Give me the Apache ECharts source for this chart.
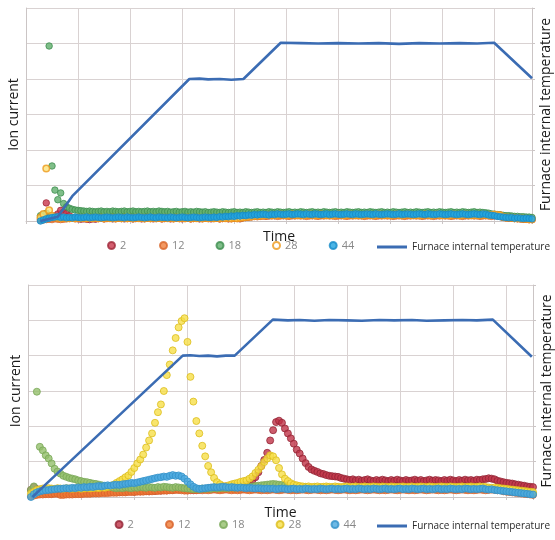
<!DOCTYPE html>
<html><head><meta charset="utf-8">
<script src="https://cdn.jsdelivr.net/npm/echarts@6.0.0/dist/echarts.min.js"></script>
<style>html,body{margin:0;padding:0;background:#fff;} .c{width:555px;height:270px;}</style>
</head><body>
<div id="c1" class="c"></div><div id="c2" class="c"></div>
<script>
// Series names (m/z) and the temperature series
const ionNames = ['2', '12', '18', '28', '44'];
const tempName = 'Furnace internal temperature';

// ---------- TOP CHART ----------
// x = sample index (18 samples per time grid division), y = ion current in 1/100 grid units
const topStart = 5;
const top2 = [5,10,51,15,12,14,20,30,25,21,
15,10,8,6,5,6,5,4,6,5,
7,8,6,7,8,6,7,8,7,6,
7,8,6,7,8,6,7,8,7,6,
7,8,6,7,8,6,7,8,7,6,
7,8,6,7,8,6,7,8,7,6,
7,8,6,7,8,6,7,8,7,6,
9,10,11,12,13,14,14,15,14,15,
16,15,17,16,15,16,17,15,16,17,
16,15,17,16,15,16,17,15,16,17,
16,15,17,16,15,16,17,15,16,17,
16,15,17,16,15,16,17,15,16,17,
16,15,17,16,15,16,17,15,16,17,
16,15,17,16,15,16,17,15,16,17,
16,15,17,16,15,16,17,15,16,17,
16,15,17,16,15,16,17,15,16,17,
10,9,8,8,7,7,6,5,5,4,4];
const top12 = [2,3,4,5,4,6,5,4,5,6,
7,8,6,7,8,7,6,8,7,8,
7,8,6,7,8,7,6,8,7,8,
7,8,6,7,8,7,6,8,7,8,
7,8,6,7,8,7,6,8,7,8,
7,8,6,7,8,7,6,8,7,8,
7,8,6,7,8,7,6,8,7,8,
9,10,11,12,13,12,13,14,13,14,
14,15,13,14,15,14,13,15,14,15,
14,15,13,14,15,14,13,15,14,15,
14,15,13,14,15,14,13,15,14,15,
14,15,13,14,15,14,13,15,14,15,
14,15,13,14,15,14,13,15,14,15,
14,15,13,14,15,14,13,15,14,15,
14,15,13,14,15,14,13,15,14,15,
14,15,13,14,15,14,13,15,14,15,
10,9,8,8,7,6,6,5,5,4,4];
const top18 = [15,18,22,493,155,87,60,79,49,40,
36,33,31,30,29,28,27,28,27,26,
27,28,26,27,26,28,27,26,27,28,
26,27,28,26,27,26,27,28,26,27,
26,28,27,26,27,25,26,27,25,26,
27,25,26,25,27,26,25,26,24,25,
26,25,24,26,25,24,25,26,24,25,
24,26,25,24,25,26,24,25,24,26,
25,24,26,25,24,25,26,24,25,24,
26,25,24,25,26,24,25,24,26,25,
24,25,26,24,25,24,26,25,24,25,
26,24,25,24,26,25,24,25,26,24,
25,24,26,25,24,25,26,24,25,24,
26,25,24,25,26,24,25,24,26,25,
24,25,26,24,25,24,26,25,24,25,
26,24,25,24,23,22,20,19,18,17,
16,15,15,14,13,13,12,12,11,11,10];
const top28 = [10,20,148,30,15,10,9,8,9,8,
8,9,8,9,8,9,8,9,8,9,
8,9,8,9,8,9,8,9,8,9,
8,9,8,9,8,9,8,9,8,9,
8,9,8,9,8,9,8,9,8,9,
8,9,8,9,8,9,8,9,8,9,
8,9,8,9,8,9,8,9,8,9,
10,11,12,13,14,15,15,16,16,17,
17,16,17,18,17,16,17,18,17,16,
17,16,17,18,17,16,17,18,17,16,
17,16,17,18,17,16,17,18,17,16,
17,16,17,18,17,16,17,18,17,16,
17,16,17,18,17,16,17,18,17,16,
17,16,17,18,17,16,17,18,17,16,
17,16,17,18,17,16,17,18,17,16,
17,16,17,18,17,16,17,18,17,16,
11,10,9,9,8,8,7,6,6,5,5];
const top44 = [0,3,6,8,10,11,12,10,11,9,
10,9,11,10,9,10,11,9,10,11,
10,9,10,11,10,9,10,11,10,9,
11,10,9,10,11,10,9,10,11,10,
9,11,10,10,9,11,10,9,10,11,
10,9,10,11,10,9,10,11,10,10,
11,10,12,11,13,12,14,13,15,14,
16,15,17,16,18,17,18,19,18,17,
19,18,20,19,18,19,20,18,19,20,
19,18,20,19,18,20,19,18,19,20,
18,19,20,19,18,19,20,19,18,20,
19,18,19,20,19,18,20,19,18,19,
20,19,18,19,20,18,19,20,19,18,
19,20,19,18,20,19,18,19,20,19,
18,19,20,19,18,19,20,19,18,19,
20,19,18,20,19,17,16,15,13,12,
11,10,9,10,8,9,8,7,8,7,6];
// temperature: [sample index, temperature units]
const topTemp = [[5,0],[11,12],[16,70],[56.5,400],[60,401],[63,399],[67,400],[71,398],[75.2,400],
[88.1,502],[95,501],[101,500],[108,501],[115,500],[122,501],[129,499],[136,501],[143,500],
[150,501],[156,500],[161.9,502],[175,402]];

// ---------- BOTTOM CHART ----------
const botStart = 1;
const bot2 = [20,28,22,15,12,10,11,10,12,11,
10,12,11,13,12,11,13,12,14,13,
12,14,13,15,14,13,15,14,16,15,
14,16,15,17,16,15,17,16,18,17,
16,18,17,19,18,20,19,21,20,22,
21,23,22,21,20,19,20,21,22,23,
24,25,26,27,28,29,30,29,30,31,
32,33,34,35,40,48,56,70,88,105,
125,160,189,212,216,210,194,180,166,151,
134,123,109,96,85,78,74,71,67,65,
62,60,59,58,57,54,52,50,48,50,
47,49,46,48,50,47,45,48,46,49,
47,45,48,46,49,47,45,48,46,47,
49,46,48,45,47,49,46,48,47,45,
48,46,49,47,45,48,46,49,47,48,
46,49,48,50,51,53,52,50,46,44,
42,40,39,38,36,35,33,32,30,29,28];
const bot12 = [2,4,6,7,7,8,8,8,9,9,
6,6,7,7,7,8,8,8,9,9,
9,10,10,10,11,11,11,12,12,12,
13,13,13,14,14,14,15,15,15,16,
16,16,17,17,18,18,18,19,19,20,
20,19,18,18,19,20,19,20,19,20,
19,20,21,20,19,20,21,20,19,20,
19,20,21,20,19,20,21,20,19,20,
19,20,21,20,19,20,21,20,19,20,
19,20,21,20,19,20,21,20,19,20,
19,20,21,20,19,20,21,20,19,20,
19,20,21,20,19,20,21,20,19,20,
19,20,21,20,19,20,21,20,19,20,
19,20,21,20,19,20,21,20,19,20,
19,20,21,20,19,20,21,20,19,20,
19,20,21,20,19,20,21,20,19,20,
16,15,14,13,12,11,10,9,8,7,6];
const bot18 = [20,30,298,142,132,118,109,95,80,72,
66,60,57,54,52,50,47,45,43,42,
40,38,37,35,33,30,29,28,26,25,
26,25,27,26,25,27,26,28,27,26,
28,27,26,28,27,29,28,27,26,28,
27,26,25,24,23,22,23,22,24,23,
24,23,25,24,25,26,25,26,27,26,
27,28,27,29,28,30,31,32,33,34,
35,36,37,36,35,34,33,32,31,30,
29,28,27,28,27,26,27,26,27,26,
27,26,27,26,25,26,27,26,25,26,
27,26,25,26,27,25,26,27,26,25,
26,27,25,26,27,26,25,26,27,25,
26,25,27,26,25,26,27,25,26,25,
27,26,25,26,25,27,26,25,26,27,
25,26,25,27,26,24,23,22,21,20,
19,18,17,16,15,14,13,12,11,10,9];
const bot28 = [10,15,20,22,24,23,25,24,23,25,
24,23,25,24,23,24,25,23,24,25,
24,25,26,25,27,26,28,30,35,40,
45,50,56,61,71,82,95,106,120,140,
160,180,210,240,262,300,345,375,415,450,
480,498,506,439,340,270,215,180,145,115,
88,70,54,42,36,31,30,33,36,38,
40,43,45,47,52,58,68,77,87,99,
109,118,115,104,82,64,52,45,39,35,
33,31,30,29,30,28,29,30,28,29,
30,29,28,30,29,28,29,30,28,29,
30,28,29,30,28,29,30,29,28,30,
29,28,30,29,28,29,30,28,29,30,
28,29,30,29,28,30,29,28,29,30,
29,28,30,29,28,29,30,28,29,30,
28,29,30,29,28,27,26,27,26,25,
24,23,22,21,20,19,18,17,16,15,14];
const bot44 = [0,8,13,16,18,19,20,21,22,23,
23,24,25,24,26,25,27,26,28,27,
29,28,30,31,30,32,33,32,34,35,
34,36,37,38,40,39,41,43,45,47,
49,51,53,55,56,58,57,60,62,60,
61,58,52,44,36,29,25,23,24,25,
26,27,28,27,28,29,28,27,28,27,
26,27,26,25,26,25,24,25,24,23,
24,23,24,22,23,24,23,22,23,24,
22,23,22,24,23,22,23,22,24,23,
22,23,24,22,23,22,23,24,22,23,
22,24,23,22,23,22,24,23,22,23,
24,22,23,22,23,24,22,23,22,24,
23,22,23,24,22,23,22,23,24,22,
23,22,24,23,22,23,22,24,23,22,
23,22,23,24,22,21,22,20,19,18,
17,16,15,14,13,12,11,10,9,8,7];
const botTemp = [[1.5,0],[5,28],[52.4,400],[55,401],[58,399],[61,400],[64,398],[67,400],[70,400],
[82.9,502],[88,500],[92,501],[97,499],[102,501],[108,500],[113,499],[119,501],[124,500],
[130,501],[135,499],[141,500],[147,501],[152,500],[157.4,502],[170.6,397]];

const FONT = 'Open Sans';
const GRID_COLOR = '#d9d2d2';
const TEMP_COLOR = '#3b6cb3';

function build(el, cfg) {
  const chart = echarts.init(document.getElementById(el), null, {renderer: 'canvas'});
  const series = cfg.ion.map((arr, k) => ({
    name: ionNames[k], type: 'scatter', yAxisIndex: 0,
    symbol: 'circle', symbolSize: cfg.symbolSize,
    itemStyle: {color: cfg.fill[k], borderColor: cfg.border[k], borderWidth: cfg.bw[k]},
    data: arr.map((v, j) => [cfg.start + j, v]),
    animation: false
  }));
  series.push({
    name: tempName, type: 'line', yAxisIndex: 1, symbol: 'none', showSymbol: false,
    lineStyle: {color: TEMP_COLOR, width: 2.6}, itemStyle: {color: TEMP_COLOR},
    data: cfg.temp, animation: false, z: 3
  });
  const legends = [];
  const names = ionNames.concat([tempName]);
  names.forEach((n, k) => {
    const isLine = k === 5;
    const item = {name: n};
    if (isLine) item.icon = 'rect';
    if (cfg.legendIconFill && cfg.legendIconFill[k]) item.itemStyle = {color: cfg.legendIconFill[k]};
    legends.push({
      data: [item], left: cfg.legendLeft[k], top: isLine ? cfg.legendTop + 2 : cfg.legendTop, padding: 0,
      itemWidth: isLine ? 30 : 7, itemHeight: isLine ? 3 : 7, selectedMode: false,
      textStyle: {fontFamily: FONT, fontSize: isLine ? 10 : 11, color: isLine ? '#2a2a2a' : '#888'}
    });
  });
  const nameStyle = {fontFamily: FONT, fontSize: 14, color: '#1a1a1a'};
  chart.setOption({
    animation: false,
    textStyle: {fontFamily: FONT},
    grid: Object.assign({outerBoundsMode: 'none', containLabel: false}, cfg.grid),
    legend: legends,
    xAxis: {
      type: 'value', min: 0, max: cfg.xmax, interval: 18,
      name: 'Time', nameLocation: 'middle', nameGap: 9, nameTextStyle: nameStyle,
      axisLine: {show: true, lineStyle: {color: '#cbc5c5'}},
      axisTick: {show: true, length: 3, lineStyle: {color: '#cbc5c5'}},
      axisLabel: {show: false},
      splitLine: {show: true, lineStyle: {color: GRID_COLOR, width: 1}}
    },
    yAxis: [{
      type: 'value', min: 0, max: 600, interval: 100, position: 'left',
      name: 'Ion current', nameLocation: 'middle', nameGap: 5, nameTextStyle: nameStyle,
      axisLine: {show: true, lineStyle: {color: '#cbc5c5'}},
      axisTick: {show: false}, axisLabel: {show: false},
      splitLine: {show: true, lineStyle: {color: GRID_COLOR, width: 1}}
    }, {
      type: 'value', min: 0, max: 600, interval: 100, position: 'right',
      name: tempName, nameLocation: 'middle', nameGap: 7, nameTextStyle: nameStyle,
      axisLine: {show: true, lineStyle: {color: '#cbc5c5'}},
      axisTick: {show: true, length: 3, lineStyle: {color: '#cbc5c5'}},
      axisLabel: {show: false}, splitLine: {show: false}
    }],
    series: series
  });
}

build('c1', {
  start: topStart, ion: [top2, top12, top18, top28, top44], temp: topTemp,
  xmax: 175, symbolSize: 6.5,
  fill: ['#c8364b', '#f07f3c', '#5fae6c', '#fbe37a', '#1ea3e0'],
  border: ['#a02a3b', '#d8662a', '#3f8e50', '#ee9a1c', '#168bc8'],
  bw: [1, 1, 1, 1.5, 1],
  legendIconFill: [null, null, null, '#ffffff', null],
  grid: {left: 26, top: 8, width: 506, height: 213},
  legendLeft: [107, 159, 215.5, 272, 328.7, 377], legendTop: 240
});
build('c2', {
  start: botStart, ion: [bot2, bot12, bot18, bot28, bot44], temp: botTemp,
  xmax: 171, symbolSize: 7,
  fill: ['#bf3347', '#ef7a35', '#93bf6c', '#f6df48', '#48a8df'],
  border: ['#942536', '#d8622a', '#79a757', '#dcbd1c', '#3592c9'],
  bw: [1, 1, 1, 1, 1],
  legendIconFill: null,
  grid: {left: 28, top: 15, width: 505, height: 212},
  legendLeft: [114.6, 165, 219, 275.6, 330.5, 377], legendTop: 249
});
</script>
</body></html>
